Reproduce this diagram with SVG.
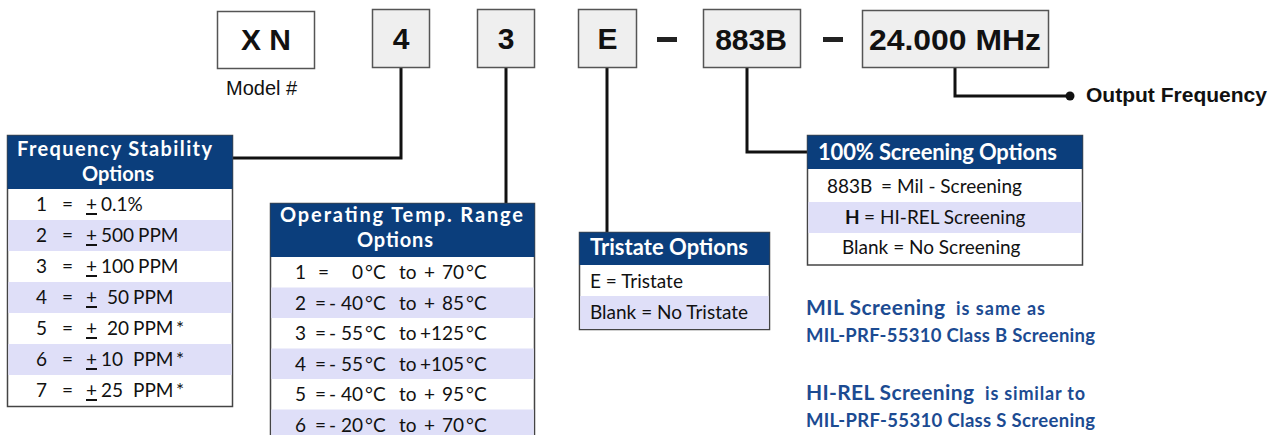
<svg xmlns="http://www.w3.org/2000/svg" width="1284" height="435" viewBox="0 0 1284 435">
<style>
.code{fill:#efefef;stroke:#555;stroke-width:1.5}
.code-w{fill:#fff;stroke:#555;stroke-width:1.5}
.ct{font-family:"Liberation Sans",Arial,sans-serif;font-weight:bold;font-size:30px;fill:#111;text-anchor:middle}
.tbl{fill:#fff;stroke:#444;stroke-width:1.5}
.hdr{fill:#0b3e7c}
.lav{fill:#dfdff8}
.ht{font-family:Lato,"Noto Sans",sans-serif;font-weight:bold;font-size:22px;fill:#fff}
.ht2{font-family:Lato,"Noto Sans",sans-serif;font-weight:bold;font-size:20px;fill:#fff}
.rt{font-family:Lato,"Noto Sans",sans-serif;font-size:19px;fill:#111}
.note{font-family:Lato,"Noto Sans",sans-serif;font-weight:bold;fill:#1c4b92}
.conn{fill:none;stroke:#111;stroke-width:3}
.ul{fill:#111}
</style>

<g id="connectors">
  <path class="conn" d="M401,67 V158 H233"/>
  <path class="conn" d="M506,67 V203"/>
  <path class="conn" d="M607,67 V232"/>
  <path class="conn" d="M747,67 V152 H808"/>
  <path class="conn" d="M955,67 V96 H1070"/>
  <circle cx="1070" cy="96" r="4.5" fill="#111"/>
</g>

<g id="node-xn">
  <rect class="code-w" x="217.5" y="11.5" width="97" height="57"/>
  <text class="ct" x="266" y="50">X N</text>
  <text x="226" y="95" font-family="Liberation Sans,Arial,sans-serif" font-size="20" fill="#111">Model #</text>
</g>
<g id="node-4">
  <rect class="code" x="372.5" y="9.5" width="57" height="58"/>
  <text class="ct" x="401" y="49">4</text>
</g>
<g id="node-3">
  <rect class="code" x="477.5" y="9.5" width="57" height="58"/>
  <text class="ct" x="506" y="49">3</text>
</g>
<g id="node-e">
  <rect class="code" x="578.5" y="9.5" width="58" height="58"/>
  <text class="ct" x="607.5" y="49">E</text>
</g>
<g id="dash-1"><rect x="657" y="37" width="20" height="5" fill="#222"/></g>
<g id="node-883b">
  <rect class="code" x="703.5" y="9.5" width="97" height="58"/>
  <text class="ct" x="751" y="50">883B</text>
</g>
<g id="dash-2"><rect x="823" y="37" width="20" height="5" fill="#222"/></g>
<g id="node-freq">
  <rect class="code" x="862.5" y="10.5" width="186" height="57"/>
  <text class="ct" x="955" y="50" textLength="172" lengthAdjust="spacingAndGlyphs">24.000 MHz</text>
</g>
<g id="label-output">
  <text x="1086" y="102" font-family="Liberation Sans,Arial,sans-serif" font-weight="bold" font-size="20" fill="#111" textLength="181" lengthAdjust="spacingAndGlyphs">Output Frequency</text>
</g>

<g id="table-stability">
  <rect class="tbl" x="7.5" y="135.5" width="225" height="271"/>
  <rect class="lav" x="8.25" y="220" width="223.5" height="31"/>
  <rect class="lav" x="8.25" y="282" width="223.5" height="31"/>
  <rect class="lav" x="8.25" y="344" width="223.5" height="31"/>
  <rect class="hdr" x="7.5" y="135.5" width="225" height="53.5"/>
  <text class="ht2" x="17" y="156" textLength="195">Frequency Stability</text>
  <text class="ht2" x="82" y="181" textLength="72">Options</text>
  <g class="rt">
    <text y="211"><tspan x="36">1</tspan><tspan x="62">=</tspan><tspan x="86">+</tspan><tspan x="101">0.1%</tspan></text>
    <text y="242"><tspan x="36">2</tspan><tspan x="62">=</tspan><tspan x="86">+</tspan><tspan x="101">500</tspan><tspan x="138">PPM</tspan></text>
    <text y="273"><tspan x="36">3</tspan><tspan x="62">=</tspan><tspan x="86">+</tspan><tspan x="101">100</tspan><tspan x="138">PPM</tspan></text>
    <text y="304"><tspan x="36">4</tspan><tspan x="62">=</tspan><tspan x="86">+</tspan><tspan x="107">50</tspan><tspan x="133">PPM</tspan></text>
    <text y="335"><tspan x="36">5</tspan><tspan x="62">=</tspan><tspan x="86">+</tspan><tspan x="107">20</tspan><tspan x="133">PPM</tspan><tspan x="176">*</tspan></text>
    <text y="366"><tspan x="36">6</tspan><tspan x="62">=</tspan><tspan x="86">+</tspan><tspan x="101">10</tspan><tspan x="133">PPM</tspan><tspan x="176">*</tspan></text>
    <text y="397"><tspan x="36">7</tspan><tspan x="62">=</tspan><tspan x="86">+</tspan><tspan x="101">25</tspan><tspan x="133">PPM</tspan><tspan x="176">*</tspan></text>
  </g>
  <rect class="ul" x="86" y="213" width="11" height="2"/>
  <rect class="ul" x="86" y="244" width="11" height="2"/>
  <rect class="ul" x="86" y="275" width="11" height="2"/>
  <rect class="ul" x="86" y="306" width="11" height="2"/>
  <rect class="ul" x="86" y="337" width="11" height="2"/>
  <rect class="ul" x="86" y="368" width="11" height="2"/>
  <rect class="ul" x="86" y="399" width="11" height="2"/>
</g>

<g id="table-temp">
  <rect class="tbl" x="270.5" y="203.5" width="264" height="245"/>
  <rect class="lav" x="271.25" y="287.5" width="262.5" height="30.5"/>
  <rect class="lav" x="271.25" y="348.5" width="262.5" height="30.5"/>
  <rect class="lav" x="271.25" y="409.5" width="262.5" height="30.5"/>
  <rect class="hdr" x="270.5" y="203.5" width="264" height="53.5"/>
  <text class="ht2" x="280" y="222" textLength="243">Operating Temp. Range</text>
  <text class="ht2" x="357" y="247" textLength="76">Options</text>
  <g class="rt">
    <text y="279"><tspan x="295">1</tspan><tspan x="318">=</tspan><tspan x="363" text-anchor="end">0</tspan><tspan x="365">°C</tspan><tspan x="399">to</tspan><tspan x="424">+</tspan><tspan x="464" text-anchor="end">70</tspan><tspan x="466">°C</tspan></text>
    <text y="309.5"><tspan x="295">2</tspan><tspan x="315">=</tspan><tspan x="329">-</tspan><tspan x="363" text-anchor="end">40</tspan><tspan x="365">°C</tspan><tspan x="399">to</tspan><tspan x="424">+</tspan><tspan x="464" text-anchor="end">85</tspan><tspan x="466">°C</tspan></text>
    <text y="340"><tspan x="295">3</tspan><tspan x="315">=</tspan><tspan x="329">-</tspan><tspan x="363" text-anchor="end">55</tspan><tspan x="365">°C</tspan><tspan x="399">to</tspan><tspan x="464" text-anchor="end">+125</tspan><tspan x="466">°C</tspan></text>
    <text y="370.5"><tspan x="295">4</tspan><tspan x="315">=</tspan><tspan x="329">-</tspan><tspan x="363" text-anchor="end">55</tspan><tspan x="365">°C</tspan><tspan x="399">to</tspan><tspan x="464" text-anchor="end">+105</tspan><tspan x="466">°C</tspan></text>
    <text y="401"><tspan x="295">5</tspan><tspan x="315">=</tspan><tspan x="329">-</tspan><tspan x="363" text-anchor="end">40</tspan><tspan x="365">°C</tspan><tspan x="399">to</tspan><tspan x="424">+</tspan><tspan x="464" text-anchor="end">95</tspan><tspan x="466">°C</tspan></text>
    <text y="431.5"><tspan x="295">6</tspan><tspan x="315">=</tspan><tspan x="329">-</tspan><tspan x="363" text-anchor="end">20</tspan><tspan x="365">°C</tspan><tspan x="399">to</tspan><tspan x="424">+</tspan><tspan x="464" text-anchor="end">70</tspan><tspan x="466">°C</tspan></text>
  </g>
</g>

<g id="table-tristate">
  <rect class="tbl" x="579.5" y="232.5" width="190" height="97"/>
  <rect class="lav" x="580.25" y="296" width="188.5" height="33"/>
  <rect class="hdr" x="579.5" y="232.5" width="190" height="32.5"/>
  <text class="ht" x="590" y="255" textLength="158">Tristate Options</text>
  <text class="rt" x="590" y="288">E = Tristate</text>
  <text class="rt" x="590" y="319">Blank = No Tristate</text>
</g>

<g id="table-screening">
  <rect class="tbl" x="807.5" y="135.5" width="275" height="129.5"/>
  <rect class="lav" x="808.25" y="202" width="273.5" height="31"/>
  <rect class="hdr" x="807.5" y="135.5" width="275" height="33.5"/>
  <text class="ht" x="818" y="160" textLength="239">100% Screening Options</text>
  <text class="rt" y="193"><tspan x="827">883B</tspan><tspan x="881">=</tspan><tspan x="897">Mil - Screening</tspan></text>
  <text class="rt" y="224"><tspan x="845" font-weight="bold">H</tspan><tspan x="864">=</tspan><tspan x="880">HI-REL Screening</tspan></text>
  <text class="rt" x="842" y="254">Blank = No Screening</text>
</g>

<g id="notes">
  <text class="note" y="315"><tspan x="806" font-size="21" textLength="139">MIL Screening</tspan><tspan x="956" font-size="18" textLength="89">is same as</tspan></text>
  <text class="note" x="806" y="342" font-size="18.5" textLength="289">MIL-PRF-55310 Class B Screening</text>
  <text class="note" y="400"><tspan x="806" font-size="21" textLength="168">HI-REL Screening</tspan><tspan x="985" font-size="18" textLength="100">is similar to</tspan></text>
  <text class="note" x="806" y="427" font-size="18.5" textLength="289">MIL-PRF-55310 Class S Screening</text>
</g>
</svg>
